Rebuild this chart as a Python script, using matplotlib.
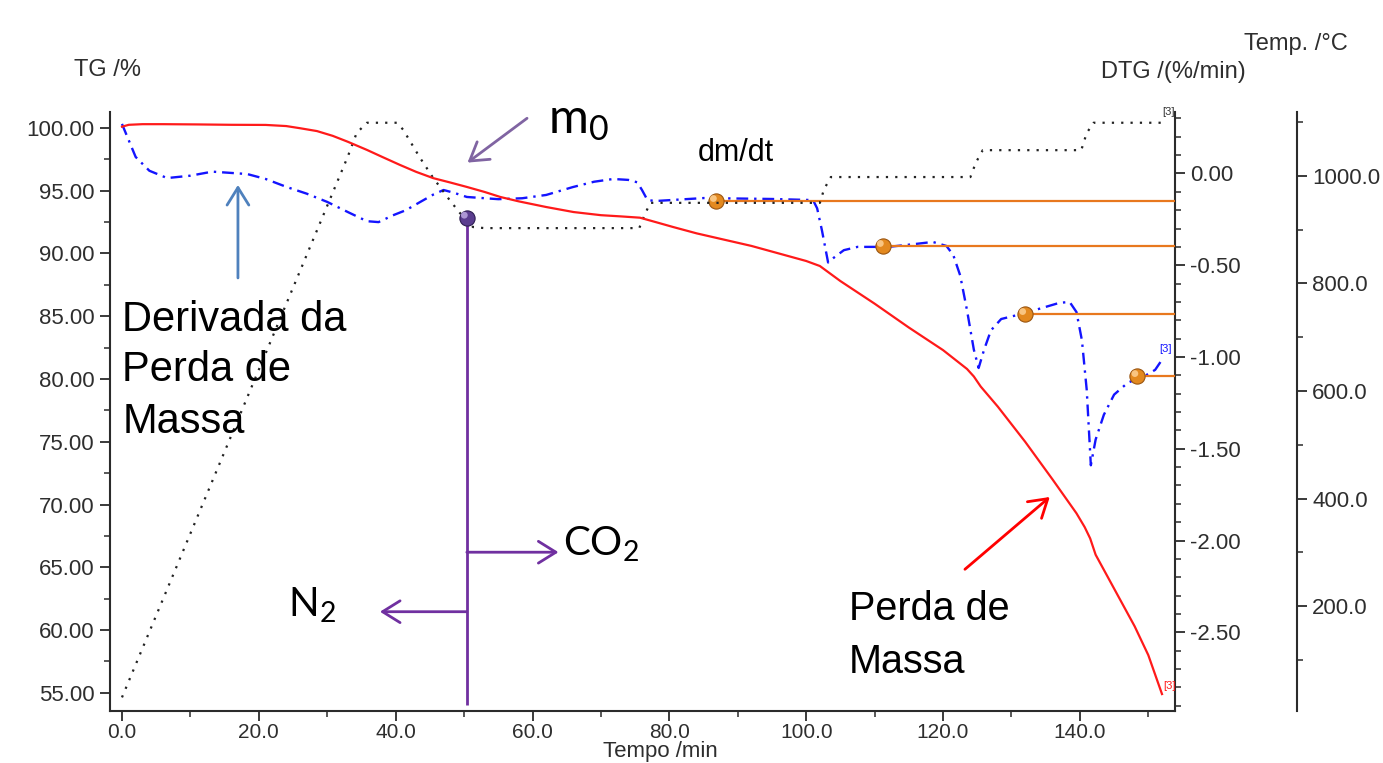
import matplotlib
matplotlib.use('Agg')
import matplotlib.pyplot as plt
import matplotlib.transforms as mtransforms
from matplotlib.ticker import MultipleLocator, FormatStrFormatter

plt.rcParams['font.family'] = ['Liberation Sans', 'DejaVu Sans']
plt.rcParams['mathtext.default'] = 'regular'

# TG curve (mass %, red)
tg_time = [0, 1, 3, 6, 11, 16, 21, 24, 26, 28.5, 30.8, 33, 35.8, 38, 40.6, 43, 45.5, 48,
           50.4, 53, 55.3, 58, 62, 66, 70, 73, 75.7, 78, 80.6, 84, 88, 92, 96, 100, 102,
           103, 105, 110, 115, 120, 123.5, 124.5, 125.5, 128, 132, 136, 139.5, 140.7,
           141.5, 142.3, 144, 146, 148, 150, 152]
tg_value = [100.1, 100.25, 100.3, 100.3, 100.28, 100.25, 100.24, 100.15, 99.98, 99.75,
            99.37, 98.9, 98.25, 97.7, 97.06, 96.5, 96.0, 95.65, 95.3, 94.9, 94.5, 94.15,
            93.7, 93.3, 93.05, 92.95, 92.85, 92.5, 92.1, 91.6, 91.1, 90.6, 90.0, 89.4,
            89.0, 88.6, 87.8, 86.0, 84.1, 82.3, 80.8, 80.2, 79.4, 77.8, 75.0, 72.0, 69.3,
            68.2, 67.3, 66.0, 64.3, 62.3, 60.3, 58.0, 54.9]

# DTG curve (%/min, blue)
dtg_time = [0, 1, 2, 4, 6.6, 10, 13.2, 18.3, 21, 24.1, 27, 30, 33, 35.8, 37.5, 39.6, 41.5,
            43.6, 45.5, 47, 48.5, 50.4, 55, 58.5, 62, 65.9, 69, 71.8, 74, 75.3, 76.0, 76.8,
            78, 85, 95, 101, 101.6, 102.3, 103.2, 104, 105.5, 107.5, 112, 116, 118.5, 120.5,
            121.5, 122.5, 123.5, 124.5, 125.2, 126, 127, 128.5, 131, 134, 137, 138.5, 139.5,
            140.3, 141, 141.6, 142.3, 143.5, 145, 147, 149.5, 151, 152]
dtg_value = [0.27, 0.18, 0.09, 0.015, -0.025, -0.012, 0.01, -0.003, -0.03, -0.074, -0.11,
             -0.155, -0.21, -0.26, -0.265, -0.228, -0.2, -0.155, -0.115, -0.09, -0.105,
             -0.128, -0.14, -0.135, -0.117, -0.074, -0.045, -0.03, -0.035, -0.048, -0.09,
             -0.145, -0.15, -0.134, -0.139, -0.145, -0.19, -0.31, -0.485, -0.46, -0.418,
             -0.4, -0.4, -0.384, -0.373, -0.395, -0.445, -0.555, -0.745, -0.96, -1.06,
             -0.96, -0.855, -0.793, -0.77, -0.738, -0.705, -0.7, -0.755, -0.91, -1.18,
             -1.59, -1.45, -1.315, -1.205, -1.14, -1.103, -1.07, -1.015]

# furnace temperature (°C, black dotted)
temp_time = [0, 33.0, 34.3, 35.8, 40.2, 41.1, 43.5, 45.4, 47.9, 49.4, 51.3, 53.0, 75.6,
             76.3, 77.2, 102.0, 102.6, 103.6, 124.0, 124.8, 125.8, 140.2, 141.0, 142.0, 152.0]
temp_value = [30, 1036, 1080, 1099, 1099, 1086, 1035, 998, 955, 931, 905, 903, 903,
              925, 950, 950, 975, 998, 998, 1025, 1048, 1048, 1080, 1099, 1099]

# DTG step markers (orange balls + level lines)
step_time = [86.8, 111.2, 132.0, 148.4]
step_dtg = [-0.15, -0.395, -0.766, -1.104]

# m0 point (purple ball) on TG axis
m0_time = 50.4
m0_tg = 92.85

X_MIN, X_MAX = -1.75, 153.9
TG_MIN, TG_MAX = 53.55, 101.27
DTG_MIN, DTG_MAX = -2.929, 0.335
T_MIN, T_MAX = 4.7, 1119

W, H = 1383, 763
fig = plt.figure(figsize=(W / 100, H / 100), dpi=100)
fig.patch.set_facecolor('white')
ax = fig.add_axes([110 / W, 1 - 711 / H, (1175 - 110) / W, (711 - 112) / H])
ax2 = ax.twinx()
ax3 = ax.twinx()

SPINE = '#2b2b2b'
LABEL = '#2e2e2e'
TICKFS = 16
TITLEFS = 17

# curves
ax3.plot(temp_time, temp_value, color='#222222', lw=1.6, linestyle=(0, (1, 3.2)))
ax2.plot(dtg_time, dtg_value, color='#1414ff', lw=1.7, linestyle=(0, (5, 2.5, 1, 2.5)))
ax.plot(tg_time, tg_value, color='#ff1a1a', lw=1.6)


def draw_balls(axis, xs, ys, body, edge, hi, size):
    axis.scatter(xs, ys, s=size, color=body, edgecolors=edge, linewidths=0.8, zorder=6)
    off = mtransforms.offset_copy(axis.transData, fig=fig, x=-1.8, y=1.8, units='points')
    axis.scatter(xs, ys, s=size * 0.2, color=hi, alpha=0.8, edgecolors='none',
                 transform=off, zorder=7)


# orange level lines + balls
ax2.hlines(step_dtg, step_time, X_MAX, color='#e8781e', lw=1.6, zorder=5)
draw_balls(ax2, step_time, step_dtg, '#e3891f', '#9a5510', '#ffd59a', 120)

# purple vertical line + ball
PURPLE = '#7030a0'
ax.vlines(m0_time, 54.0, m0_tg, color=PURPLE, lw=2, zorder=5)
draw_balls(ax, [m0_time], [m0_tg], '#5b3d8f', '#2e1d52', '#c2aee6', 120)

# limits
ax.set_xlim(X_MIN, X_MAX)
ax.set_ylim(TG_MIN, TG_MAX)
ax2.set_ylim(DTG_MIN, DTG_MAX)
ax3.set_ylim(T_MIN, T_MAX)

# ticks
ax.xaxis.set_major_locator(MultipleLocator(20))
ax.xaxis.set_minor_locator(MultipleLocator(10))
ax.xaxis.set_major_formatter(FormatStrFormatter('%.1f'))
ax.yaxis.set_major_locator(MultipleLocator(5))
ax.yaxis.set_minor_locator(MultipleLocator(2.5))
ax.yaxis.set_major_formatter(FormatStrFormatter('%.2f'))
ax2.yaxis.set_major_locator(MultipleLocator(0.5))
ax2.yaxis.set_minor_locator(MultipleLocator(0.1))
ax2.yaxis.set_major_formatter(FormatStrFormatter('%.2f'))
ax3.yaxis.set_major_locator(MultipleLocator(200))
ax3.yaxis.set_minor_locator(MultipleLocator(100))
ax3.yaxis.set_major_formatter(FormatStrFormatter('%.1f'))
ax3.set_yticks([200, 400, 600, 800, 1000])

for a in (ax, ax2, ax3):
    a.tick_params(which='major', direction='out', length=7, width=1.3, color=SPINE,
                  labelsize=TICKFS, labelcolor=LABEL, pad=4)
    a.tick_params(which='minor', direction='out', length=4, width=1.1, color=SPINE)
ax.tick_params(axis='x', which='major', pad=2, labelsize=15)

ax.spines['top'].set_visible(False)
ax.spines['right'].set_visible(False)
for a in (ax2, ax3):
    for s in ('top', 'left', 'bottom'):
        a.spines[s].set_visible(False)
ax2.spines['right'].set_visible(True)
ax3.spines['right'].set_position(('axes', 1 + 122 / 1065))
for a in (ax, ax2, ax3):
    for s in a.spines.values():
        s.set_color(SPINE)
        s.set_linewidth(1.5)

# keep TG axis content on top
ax.set_zorder(ax3.get_zorder() + 1)
ax.patch.set_visible(False)

# axis titles
fig.text(108 / W, 1 - 70 / H, 'TG /%', ha='center', va='center', fontsize=TITLEFS, color=LABEL)
fig.text(1173 / W, 1 - 72 / H, 'DTG /(%/min)', ha='center', va='center', fontsize=TITLEFS, color=LABEL)
fig.text(1296 / W, 1 - 44 / H, 'Temp. /°C', ha='center', va='center', fontsize=TITLEFS, color=LABEL)
fig.text(660 / W, 1 - 762 / H, 'Tempo /min', ha='center', va='bottom', fontsize=16, color=LABEL)

# segment tags at curve ends
ax3.annotate('[3]', (temp_time[-1], temp_value[-1]), xytext=(0, 4), textcoords='offset points',
             fontsize=8, color='#333333', ha='left', va='bottom')
ax2.annotate('[3]', (dtg_time[-1], dtg_value[-1]), xytext=(-2, 4), textcoords='offset points',
             fontsize=8, color='#1414ff', ha='left', va='bottom')
ax.annotate('[3]', (tg_time[-1], tg_value[-1]), xytext=(1, 2), textcoords='offset points',
            fontsize=8, color='#ff1a1a', ha='left', va='bottom')


def arrow(head, tail, color, lw=2.0):
    ax.annotate('', xy=head, xytext=tail,
                arrowprops=dict(arrowstyle='->,head_length=0.45,head_width=0.28', color=color,
                                lw=lw, shrinkA=0, shrinkB=0, mutation_scale=28), zorder=8)


# annotations
arrow((50.5, 97.24), (59.2, 100.77), '#8064a2')
ax.text(62.3, 99.58, 'm$_0$', fontsize=35, family=['Lato', 'DejaVu Sans'], va='baseline')
ax.text(84.2, 97.4, 'dm/dt', fontsize=22, va='baseline')

arrow((16.95, 95.46), (16.95, 88.05), '#4f81bd')
for line, y in zip(['Derivada da', 'Perda de', 'Massa'], [83.8, 79.8, 75.7]):
    ax.text(0.05, y, line, fontsize=30, va='baseline')

arrow((63.8, 66.2), (m0_time, 66.2), PURPLE)
ax.text(64.5, 65.9, 'CO$_2$', fontsize=29, family=['Lato', 'DejaVu Sans'], va='baseline')
arrow((37.7, 61.46), (m0_time, 61.46), PURPLE)
ax.text(24.3, 61.06, 'N$_2$', fontsize=29, family=['Lato', 'DejaVu Sans'], va='baseline')

arrow((135.6, 70.6), (123.2, 64.84), '#ff0000')
for line, y in zip(['Perda de', 'Massa'], [60.8, 56.6]):
    ax.text(106.2, y, line, fontsize=28.5, va='baseline')

fig.savefig('out.png', dpi=100, facecolor='white')
